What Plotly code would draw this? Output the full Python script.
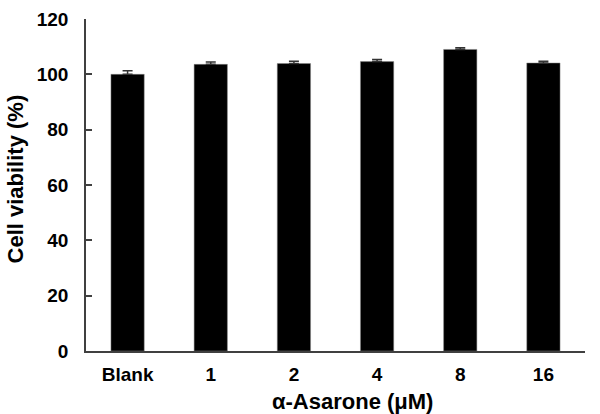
import plotly.graph_objects as go

categories = ["Blank", "1", "2", "4", "8", "16"]
viability = [100.0, 103.6, 103.9, 104.6, 109.0, 104.1]
errors = [1.3, 0.9, 0.8, 0.8, 0.6, 0.6]
y_ticks = [0, 20, 40, 60, 80, 100, 120]
x_title = "α-Asarone (μM)"
y_title = "Cell viability (%)"

font_family = "Liberation Sans, Arial, sans-serif"
title_font = dict(family=font_family, size=22, color="#000000", weight="bold")

fig = go.Figure()
fig.add_trace(go.Bar(
    x=categories,
    y=viability,
    error_y=dict(type="data", array=errors, visible=True, color="#333333",
                 thickness=1.5, width=5, symmetric=False, arrayminus=[0]*6),
    marker=dict(color="#000000", line=dict(color="#888888", width=0.5)),
    width=0.4,
))

fig.update_layout(
    width=600, height=414,
    margin=dict(l=86, r=15, t=19, b=63, autoexpand=False),
    plot_bgcolor="white", paper_bgcolor="white",
    showlegend=False,
    font=dict(family=font_family, color="#000000"),
)
fig.update_xaxes(
    type="category",
    range=[-0.5, 5.5],
    automargin=False,
    showline=True, linecolor="#404040", linewidth=1.5,
    ticks="", showgrid=False,
    tickfont=dict(family=font_family, size=19, color="#000000", weight="bold"),
    ticklabelstandoff=5,
)
fig.update_yaxes(
    range=[0, 120],
    automargin=False,
    tickvals=y_ticks,
    showline=True, linecolor="#404040", linewidth=1.5,
    ticks="inside", ticklen=6, tickcolor="#404040", tickwidth=1.5,
    showgrid=False, zeroline=False,
    tickfont=dict(family=font_family, size=19, color="#000000", weight="bold"),
    ticklabelstandoff=12,
)
fig.add_annotation(text=x_title, xref="paper", yref="paper", x=0.535, y=0,
                   yshift=-50, xanchor="center", yanchor="middle",
                   showarrow=False, font=title_font)
fig.add_annotation(text=y_title, xref="paper", yref="paper", x=0, y=0.5166,
                   xshift=-71, xanchor="center", yanchor="middle",
                   textangle=-90, showarrow=False, font=title_font)

# Remove the browser's default 8px body margin so the figure fills the window.
fig.write_html("out.html", config={"displayModeBar": False},
               post_script="document.body.style.margin='0';")
